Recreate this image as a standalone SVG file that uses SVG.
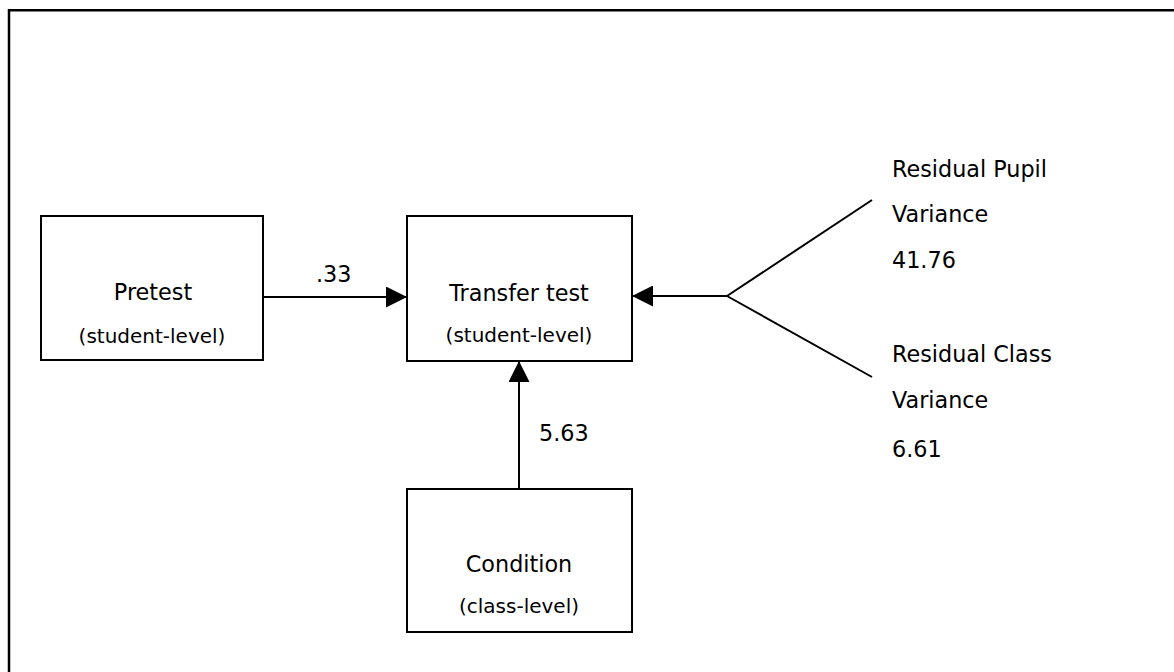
<svg xmlns="http://www.w3.org/2000/svg" width="1174" height="672" viewBox="0 0 1174 672">
<style>
  .box { fill: #ffffff; stroke: #000000; stroke-width: 2; }
  .t { font-family: "DejaVu Sans", Verdana, sans-serif; font-size: 22.3px; fill: #000000; }
  .s { font-family: "DejaVu Sans", Verdana, sans-serif; font-size: 20px; fill: #000000; }
  .c { text-anchor: middle; }
  .ln { stroke: #000000; stroke-width: 2; fill: none; }
</style>
<defs>
  <marker id="arr" markerUnits="userSpaceOnUse" markerWidth="21" markerHeight="21" refX="21" refY="10.5" orient="auto" viewBox="0 0 21 21">
    <path d="M0,0 L21,10.5 L0,21 z" fill="#000000"/>
  </marker>
</defs>
<rect width="1174" height="672" fill="#ffffff"/>
<g id="frame">
  <line x1="9" y1="9" x2="9" y2="672" stroke="#000" stroke-width="2.5"/>
  <line x1="8" y1="10.3" x2="1174" y2="10.3" stroke="#000" stroke-width="2.5"/>
</g>
<g id="connectors">
  <line class="ln" x1="263" y1="297" x2="407" y2="297" marker-end="url(#arr)"/>
  <line class="ln" x1="727" y1="296" x2="632" y2="296" marker-end="url(#arr)"/>
  <line class="ln" x1="519" y1="489" x2="519" y2="361" marker-end="url(#arr)"/>
  <line class="ln" x1="727" y1="296" x2="872" y2="200"/>
  <line class="ln" x1="727" y1="296" x2="872" y2="377"/>
  <text class="t" x="316" y="282">.33</text>
  <text class="t" x="539" y="441">5.63</text>
</g>
<g id="pretest">
  <rect class="box" x="41" y="216" width="222" height="144"/>
  <text class="t c" x="153" y="300">Pretest</text>
  <text class="s c" x="152" y="343">(student-level)</text>
</g>
<g id="transfer">
  <rect class="box" x="407" y="216" width="225" height="145"/>
  <text class="t c" x="519" y="301">Transfer test</text>
  <text class="s c" x="519" y="342">(student-level)</text>
</g>
<g id="condition">
  <rect class="box" x="407" y="489" width="225" height="143"/>
  <text class="t c" x="519" y="572">Condition</text>
  <text class="s c" x="519" y="613">(class-level)</text>
</g>
<g id="residual-pupil">
  <text class="t" x="892" y="177">Residual Pupil</text>
  <text class="t" x="892" y="222">Variance</text>
  <text class="t" x="892" y="268">41.76</text>
</g>
<g id="residual-class">
  <text class="t" x="892" y="362">Residual Class</text>
  <text class="t" x="892" y="408">Variance</text>
  <text class="t" x="892" y="457">6.61</text>
</g>
</svg>
